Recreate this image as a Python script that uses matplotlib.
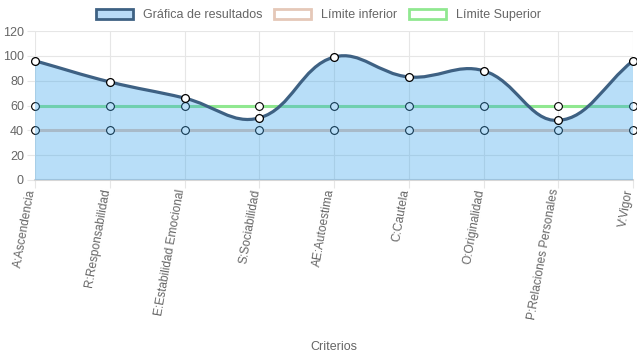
import numpy as np
import matplotlib
matplotlib.use("Agg")
import matplotlib.pyplot as plt
from matplotlib.path import Path
from matplotlib.patches import PathPatch, Patch

plt.rcParams['font.family'] = ['Liberation Sans', 'DejaVu Sans']

categories = ["A:Ascendencia", "R:Responsabilidad", "E:Estabilidad Emocional",
              "S:Sociabilidad", "AE:Autoestima", "C:Cautela", "O:Originalidad",
              "P:Relaciones Personales", "V:Vigor"]
resultados = [96, 79, 66, 50, 99, 83, 88, 48, 96]
limite_inferior = [40, 40, 40, 40, 40, 40, 40, 40, 40]
limite_superior = [60, 60, 60, 60, 60, 60, 60, 60, 60]
series_labels = ["Gráfica de resultados", "Límite inferior", "Límite Superior"]
y_ticks = [0, 20, 40, 60, 80, 100, 120]
x_title = "Criterios"

W, H = 637, 359
fig = plt.figure(figsize=(W / 100, H / 100), dpi=100)
ax = fig.add_axes([35 / W, 179 / H, (633 - 35) / W, (180 - 31) / H])

grid_c = '#e6e6e6'
text_c = '#666666'
line_c = '#3e6183'
fill_c = (54 / 255, 162 / 255, 235 / 255, 0.35)
inf_c = '#e5c8b8'
sup_c = '#90e890'

x = np.arange(len(categories))
ax.set_xlim(0, len(categories) - 1)
ax.set_ylim(0, 120)
ax.set_yticks(y_ticks)
ax.set_xticks(x)
ax.set_xticklabels(categories, rotation=80, ha='right', va='baseline',
                   rotation_mode='anchor', color=text_c, fontsize=8.6)
ax.tick_params(axis='x', length=6, color=grid_c, pad=1)
ax.tick_params(axis='y', length=6, color=grid_c, labelcolor=text_c, labelsize=9, pad=2)
ax.grid(True, color=grid_c, linewidth=0.8, zorder=0)
for s in ['top', 'right', 'left']:
    ax.spines[s].set_visible(False)
ax.spines['bottom'].set_color('#d6d6d6')
ax.spines['bottom'].set_linewidth(1.5)

# limits
ax.plot(x, limite_superior, color=sup_c, lw=2.2, zorder=2, marker='o', ms=5.6,
        mfc='white', mec='black', mew=0.8)
ax.plot(x, limite_inferior, color=inf_c, lw=2.2, zorder=2, marker='o', ms=5.6,
        mfc='white', mec='black', mew=0.8)

# spline like Chart.js (tension 0.4), computed in display space
fig.canvas.draw()
T = ax.transData
pts = T.transform(np.column_stack([x, resultados]))
n = len(pts)
t = 0.4
cp_prev = np.zeros_like(pts)
cp_next = np.zeros_like(pts)
for i in range(n):
    prev = pts[i - 1] if i > 0 else pts[i]
    cur = pts[i]
    nxt = pts[i + 1] if i < n - 1 else pts[i]
    d01 = np.hypot(*(cur - prev))
    d12 = np.hypot(*(nxt - cur))
    tot = d01 + d12
    s01 = d01 / tot if tot else 0
    s12 = d12 / tot if tot else 0
    cp_prev[i] = cur - t * s01 * (nxt - prev)
    cp_next[i] = cur + t * s12 * (nxt - prev)
verts = [pts[0]]
codes = [Path.MOVETO]
for i in range(n - 1):
    verts += [cp_next[i], cp_prev[i + 1], pts[i + 1]]
    codes += [Path.CURVE4] * 3
inv = T.inverted()
verts_d = inv.transform(np.array(verts))
curve = Path(verts_d, codes)
fill_verts = np.vstack([verts_d, [[x[-1], 0], [x[0], 0], verts_d[0]]])
fill_codes = codes + [Path.LINETO, Path.LINETO, Path.CLOSEPOLY]
ax.add_patch(PathPatch(Path(fill_verts, fill_codes), facecolor=fill_c,
                       edgecolor='none', zorder=3))
ax.add_patch(PathPatch(curve, facecolor='none', edgecolor=line_c, lw=2.3,
                       zorder=4, capstyle='round'))
ax.plot(x, resultados, ls='none', marker='o', ms=5.6, mfc='white', mec='black',
        mew=0.9, zorder=5, clip_on=False)
for l in ax.lines:
    l.set_clip_on(False)

handles = [Patch(facecolor=(184 / 255, 218 / 255, 246 / 255), edgecolor=line_c, lw=2),
           Patch(facecolor='white', edgecolor=inf_c, lw=2),
           Patch(facecolor='white', edgecolor=sup_c, lw=2)]
fig.legend(handles, series_labels, loc='center', bbox_to_anchor=(0.5, 1 - 15 / H),
           ncol=3, frameon=False, fontsize=9, labelcolor=text_c,
           handlelength=3.0, handleheight=0.9, handletextpad=0.8, columnspacing=0.9)

fig.text(334 / W, 1 - 347 / H, x_title, ha='center', va='center', color=text_c, fontsize=9)

fig.savefig('out.png', dpi=100)
